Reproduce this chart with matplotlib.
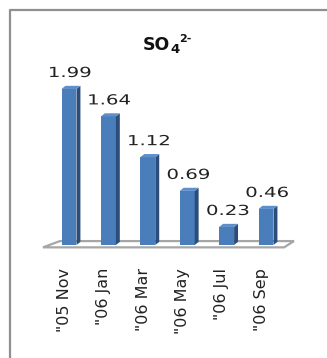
import numpy as np
import matplotlib
matplotlib.use('Agg')
import matplotlib.pyplot as plt
import matplotlib.transforms as mtransforms
from matplotlib.patches import Polygon, PathPatch
from matplotlib.textpath import TextPath
from matplotlib.font_manager import FontProperties
from matplotlib.lines import Line2D

months = ['"05 Nov', '"06 Jan', '"06 Mar', '"06 May', '"06 Jul', '"06 Sep']
so4 = [1.99, 1.64, 1.12, 0.69, 0.23, 0.46]

front = '#4a7ebb'
side = '#2c4d7a'
top = '#5f8fcb'

W, H = 327, 358

def wide_label(ax, x, y, s, size, sx, dy_px):
    # text drawn as a path so it can be stretched sideways
    fp = FontProperties(family='DejaVu Sans')
    tp = TextPath((0, 0), s, size=size, prop=fp)
    bb = tp.get_extents()
    k = ax.figure.dpi / 72.0
    tr = (mtransforms.Affine2D().translate(-(bb.x0 + bb.x1) / 2, 0)
          .scale(sx * k, k).translate(0, dy_px)
          + mtransforms.ScaledTranslation(x, y, ax.transData))
    ax.add_patch(PathPatch(tp, transform=tr, color='#222222', lw=0, zorder=6))

fig = plt.figure(figsize=(W / 100, H / 100), dpi=100)
fig.patch.set_facecolor('white')
ax = fig.add_axes([29.6 / W, 3.24 / H, 275.8 / W, 313.6 / H])
ax.set_xlim(-1, 6)
ax.set_ylim(-1.4, 2.6)
ax.axis('off')

x = np.arange(len(so4))
w = 0.38
dx, dy = 0.1, 0.04

# floor plate
ax.add_patch(Polygon([(-0.66, -0.03), (5.46, -0.03), (5.71, 0.05), (-0.23, 0.05)],
                     closed=True, facecolor='white', edgecolor='#a6a6a6', lw=1.6, zorder=1))

ax.bar(x, so4, width=w, color=front, lw=0, zorder=3)
for xi, v in zip(x, so4):
    r = xi + w / 2
    ax.add_patch(Polygon([(r, 0), (r + dx, dy), (r + dx, v + dy), (r, v)],
                         closed=True, facecolor=side, lw=0, zorder=3))
    ax.add_patch(Polygon([(xi - w / 2, v), (r, v), (r + dx, v + dy), (xi - w / 2 + dx, v + dy)],
                         closed=True, facecolor=top, lw=0, zorder=3))
    wide_label(ax, xi + 0.03, v, '%.2f' % v, 10, 1.42, 12)

for xi, m in zip(x, months):
    ax.text(xi - 0.12, -0.29, m, rotation=90, ha='center', va='top',
            fontsize=11.5, color='#222222')

# title: SO4 with 2- charge, each piece placed right after the previous one
tkw = dict(fontweight='bold', color='#111111', ha='left', va='baseline')
rend = fig.canvas.get_renderer()
t1 = fig.text(143 / W, 1 - 50 / H, 'SO', fontsize=12.5, **tkw)
x1 = t1.get_window_extent(rend).x1 / W
t2 = fig.text(x1, 1 - 53 / H, '4', fontsize=9.5, **tkw)
x2 = t2.get_window_extent(rend).x1 / W
fig.text(x2, 1 - 42 / H, '2-', fontsize=8, **tkw)

# chart frame (left and top edges)
fig.add_artist(Line2D([10 / W, 10 / W, 1], [0, 1 - 10 / H, 1 - 10 / H],
                      transform=fig.transFigure, color='#8f8f8f', lw=1.6))

fig.savefig('out.png', dpi=100)
